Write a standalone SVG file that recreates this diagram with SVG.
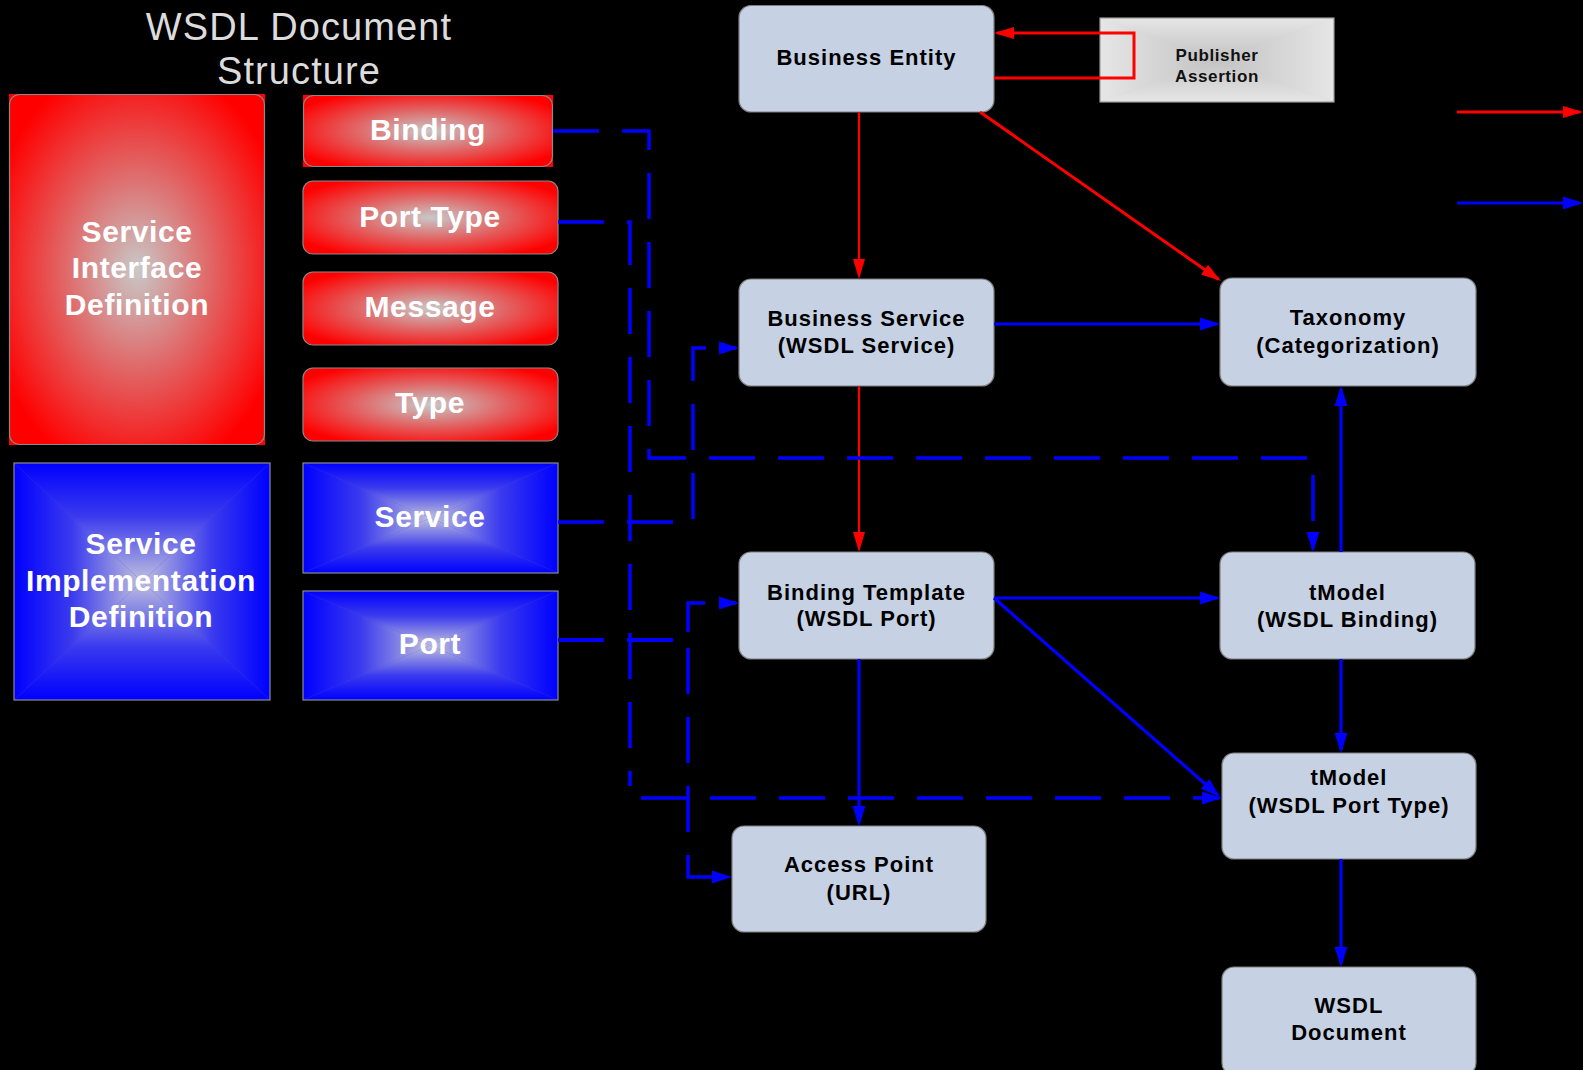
<svg xmlns="http://www.w3.org/2000/svg" width="1583" height="1070" viewBox="0 0 1583 1070">
  <defs>
    <style>
      .node rect { fill: #c6d1e4; stroke: #7f7f7f; stroke-width: 1.2; }
      .nt { font-family: "Liberation Sans", Arial, sans-serif; font-weight: bold; font-size: 22px; letter-spacing: 1px; fill: #000; text-anchor: middle; }
      .pt { font-family: "Liberation Sans", Arial, sans-serif; font-weight: bold; font-size: 17px; letter-spacing: 0.6px; fill: #111; text-anchor: middle; }
      .wt { font-family: "Liberation Sans", Arial, sans-serif; font-weight: bold; font-size: 30px; letter-spacing: 0.6px; fill: #fff; text-anchor: middle; }
      .title { font-family: "Liberation Sans", Arial, sans-serif; font-size: 38px; letter-spacing: 1.1px; fill: #dcdcdc; text-anchor: middle; }
      .frame { fill: none; stroke: #8a8a8a; stroke-width: 1.2; }
      .red { fill: none; stroke: #ff0000; }
      .blue { fill: none; stroke: #0000ff; stroke-width: 3.2; }
      .dash { stroke-width: 3.5; stroke-dasharray: 46 23; }
    </style>
    <!-- red boxes: soft grey centre fading to red -->
    <radialGradient id="redGlow" cx="0.5" cy="0.5" r="0.6">
      <stop offset="0" stop-color="#c8c8c8"/>
      <stop offset="0.5" stop-color="#e26262"/>
      <stop offset="1" stop-color="#ff0000"/>
    </radialGradient>
    <!-- blue boxes: rectangular (pyramid) gradient built from four faces -->
    <linearGradient id="bT" x1="0" y1="0" x2="0" y2="1">
      <stop offset="0" stop-color="#0000ff"/><stop offset="0.45" stop-color="#3a3aee"/><stop offset="1" stop-color="#c0c0de"/>
    </linearGradient>
    <linearGradient id="bB" x1="0" y1="1" x2="0" y2="0">
      <stop offset="0" stop-color="#0000ff"/><stop offset="0.45" stop-color="#3a3aee"/><stop offset="1" stop-color="#c0c0de"/>
    </linearGradient>
    <linearGradient id="bL" x1="0" y1="0" x2="1" y2="0">
      <stop offset="0" stop-color="#0000ff"/><stop offset="0.45" stop-color="#3a3aee"/><stop offset="1" stop-color="#c0c0de"/>
    </linearGradient>
    <linearGradient id="bR" x1="1" y1="0" x2="0" y2="0">
      <stop offset="0" stop-color="#0000ff"/><stop offset="0.45" stop-color="#3a3aee"/><stop offset="1" stop-color="#c0c0de"/>
    </linearGradient>
    <!-- grey pyramid gradient -->
    <linearGradient id="gT" x1="0" y1="0" x2="0" y2="1">
      <stop offset="0" stop-color="#e6e6e6"/><stop offset="1" stop-color="#c2c2c2"/>
    </linearGradient>
    <linearGradient id="gB" x1="0" y1="1" x2="0" y2="0">
      <stop offset="0" stop-color="#e6e6e6"/><stop offset="1" stop-color="#c2c2c2"/>
    </linearGradient>
    <linearGradient id="gL" x1="0" y1="0" x2="1" y2="0">
      <stop offset="0" stop-color="#e6e6e6"/><stop offset="1" stop-color="#c2c2c2"/>
    </linearGradient>
    <linearGradient id="gR" x1="1" y1="0" x2="0" y2="0">
      <stop offset="0" stop-color="#e6e6e6"/><stop offset="1" stop-color="#c2c2c2"/>
    </linearGradient>
    <marker id="ahBlue" markerUnits="userSpaceOnUse" markerWidth="20" markerHeight="14" viewBox="0 0 20 14" refX="17" refY="7" orient="auto">
      <path d="M0,0.5 L20,7 L0,13.5 Z" fill="#0000ff"/>
    </marker>
    <marker id="ahRed" markerUnits="userSpaceOnUse" markerWidth="20" markerHeight="14" viewBox="0 0 20 14" refX="17" refY="7" orient="auto">
      <path d="M0,1 L20,7 L0,13 Z" fill="#ff0000"/>
    </marker>
  </defs>

  <rect x="0" y="0" width="1583" height="1070" fill="#000"/>

  <!-- heading -->
  <text class="title" x="299" y="40">WSDL Document</text>
  <text class="title" x="299" y="84">Structure</text>

  <!-- WSDL document parts: interface side (red) -->
  <g id="service-interface-definition">
    <rect x="9" y="94" width="256" height="351" fill="url(#redGlow)"/>
    <rect class="frame" x="9.5" y="94.5" width="255" height="350" rx="10"/>
    <text class="wt" x="137" y="242">Service</text>
    <text class="wt" x="137" y="278">Interface</text>
    <text class="wt" x="137" y="315">Definition</text>
  </g>
  <g id="binding">
    <rect x="303" y="95" width="250" height="72" fill="url(#redGlow)"/>
    <rect class="frame" x="303.5" y="95.5" width="249" height="71" rx="10"/>
    <text class="wt" x="428" y="140">Binding</text>
  </g>
  <g id="port-type">
    <rect x="303" y="181" width="255" height="73" rx="10" fill="url(#redGlow)" stroke="#8a8a8a" stroke-width="1.2"/>
    <text class="wt" x="430" y="227">Port Type</text>
  </g>
  <g id="message">
    <rect x="303" y="272" width="255" height="73" rx="10" fill="url(#redGlow)" stroke="#8a8a8a" stroke-width="1.2"/>
    <text class="wt" x="430" y="317">Message</text>
  </g>
  <g id="type">
    <rect x="303" y="368" width="255" height="73" rx="10" fill="url(#redGlow)" stroke="#8a8a8a" stroke-width="1.2"/>
    <text class="wt" x="430" y="413">Type</text>
  </g>

  <!-- WSDL document parts: implementation side (blue) -->
  <g id="service-implementation-definition">
    <rect x="14" y="463" width="256" height="237" fill="#4848e8"/>
    <path d="M14,463 L270,463 L142,581.5 Z" fill="url(#bT)"/>
    <path d="M14,700 L270,700 L142,581.5 Z" fill="url(#bB)"/>
    <path d="M14,463 L14,700 L142,581.5 Z" fill="url(#bL)"/>
    <path d="M270,463 L270,700 L142,581.5 Z" fill="url(#bR)"/>
    <rect class="frame" x="14" y="463" width="256" height="237"/>
    <text class="wt" x="141" y="554">Service</text>
    <text class="wt" x="141" y="591">Implementation</text>
    <text class="wt" x="141" y="627">Definition</text>
  </g>
  <g id="service">
    <rect x="303" y="463" width="255" height="110" fill="#4848e8"/>
    <path d="M303,463 L558,463 L430.5,518 Z" fill="url(#bT)"/>
    <path d="M303,573 L558,573 L430.5,518 Z" fill="url(#bB)"/>
    <path d="M303,463 L303,573 L430.5,518 Z" fill="url(#bL)"/>
    <path d="M558,463 L558,573 L430.5,518 Z" fill="url(#bR)"/>
    <rect class="frame" x="303" y="463" width="255" height="110"/>
    <text class="wt" x="430" y="527">Service</text>
  </g>
  <g id="port">
    <rect x="303" y="591" width="255" height="109" fill="#4848e8"/>
    <path d="M303,591 L558,591 L430.5,645.5 Z" fill="url(#bT)"/>
    <path d="M303,700 L558,700 L430.5,645.5 Z" fill="url(#bB)"/>
    <path d="M303,591 L303,700 L430.5,645.5 Z" fill="url(#bL)"/>
    <path d="M558,591 L558,700 L430.5,645.5 Z" fill="url(#bR)"/>
    <rect class="frame" x="303" y="591" width="255" height="109"/>
    <text class="wt" x="430" y="654">Port</text>
  </g>

  <!-- UDDI registry entities -->
  <g id="publisher-assertion">
    <rect x="1100" y="18" width="234" height="84" fill="#d4d4d4"/>
    <path d="M1100,18 L1334,18 L1217,60 Z" fill="url(#gT)"/>
    <path d="M1100,102 L1334,102 L1217,60 Z" fill="url(#gB)"/>
    <path d="M1100,18 L1100,102 L1217,60 Z" fill="url(#gL)"/>
    <path d="M1334,18 L1334,102 L1217,60 Z" fill="url(#gR)"/>
    <rect x="1100" y="18" width="234" height="84" fill="none" stroke="#9a9a9a" stroke-width="1.2"/>
    <text class="pt" x="1217" y="61">Publisher</text>
    <text class="pt" x="1217" y="82">Assertion</text>
  </g>
  <g id="business-entity" class="node">
    <rect x="739" y="5.5" width="255" height="106.5" rx="12"/>
    <text class="nt" x="866.5" y="65">Business Entity</text>
  </g>
  <g id="business-service" class="node">
    <rect x="739" y="279" width="255" height="107" rx="12"/>
    <text class="nt" x="866.5" y="326">Business Service</text>
    <text class="nt" x="866.5" y="353">(WSDL Service)</text>
  </g>
  <g id="taxonomy" class="node">
    <rect x="1220" y="278" width="256" height="108" rx="12"/>
    <text class="nt" x="1348" y="325">Taxonomy</text>
    <text class="nt" x="1348" y="353">(Categorization)</text>
  </g>
  <g id="binding-template" class="node">
    <rect x="739" y="552" width="255" height="107" rx="12"/>
    <text class="nt" x="866.5" y="600">Binding Template</text>
    <text class="nt" x="866.5" y="626">(WSDL Port)</text>
  </g>
  <g id="tmodel-binding" class="node">
    <rect x="1220" y="552" width="255" height="107" rx="12"/>
    <text class="nt" x="1347.5" y="600">tModel</text>
    <text class="nt" x="1347.5" y="627">(WSDL Binding)</text>
  </g>
  <g id="tmodel-port-type" class="node">
    <rect x="1222" y="753" width="254" height="106" rx="12"/>
    <text class="nt" x="1349" y="785">tModel</text>
    <text class="nt" x="1349" y="813">(WSDL Port Type)</text>
  </g>
  <g id="access-point" class="node">
    <rect x="732" y="826" width="254" height="106" rx="12"/>
    <text class="nt" x="859" y="872">Access Point</text>
    <text class="nt" x="859" y="900">(URL)</text>
  </g>
  <g id="wsdl-document" class="node">
    <rect x="1222" y="967" width="254" height="108" rx="12"/>
    <text class="nt" x="1349" y="1013">WSDL</text>
    <text class="nt" x="1349" y="1040">Document</text>
  </g>

  <!-- connectors -->
  <g id="connectors">
    <!-- containment (red) -->
    <path class="red" stroke-width="2.2" d="M859,112 V276" marker-end="url(#ahRed)"/>
    <path class="red" stroke-width="2.2" d="M859,386 V549" marker-end="url(#ahRed)"/>
    <path class="red" stroke-width="3" d="M980,112 L1218.5,279.3" marker-end="url(#ahRed)"/>
    <path class="red" stroke-width="3" d="M994,78 H1134 V33 H997" marker-end="url(#ahRed)"/>

    <!-- references (blue) -->
    <path class="blue" d="M994,324 H1217" marker-end="url(#ahBlue)"/>
    <path class="blue" d="M1341,552 V389" marker-end="url(#ahBlue)"/>
    <path class="blue" d="M994,598 H1217" marker-end="url(#ahBlue)"/>
    <path class="blue" d="M994,598 L1217.7,795" marker-end="url(#ahBlue)"/>
    <path class="blue" d="M859,659 V823" marker-end="url(#ahBlue)"/>
    <path class="blue" d="M1341,659 V750" marker-end="url(#ahBlue)"/>
    <path class="blue" d="M1341,859 V964" marker-end="url(#ahBlue)"/>

    <!-- WSDL to UDDI mappings (blue dashed) -->
    <path class="blue dash" d="M553,131 H649 V458 H1313 V549" marker-end="url(#ahBlue)"/>
    <path class="blue dash" d="M558,222 H630 V786 M641,798 H1219" marker-end="url(#ahBlue)"/>
    <path class="blue dash" d="M558,522 H693 V348 H736" marker-end="url(#ahBlue)"/>
    <path class="blue dash" d="M558,640 H688 V603 H736" marker-end="url(#ahBlue)"/>
    <path class="blue dash" d="M558,640 H688 V877 H729" marker-end="url(#ahBlue)"/>

    <!-- legend arrows -->
    <path class="red" stroke-width="3" d="M1457,112 H1580" marker-end="url(#ahRed)"/>
    <path class="blue" d="M1457,203 H1580" marker-end="url(#ahBlue)"/>
  </g>
</svg>
